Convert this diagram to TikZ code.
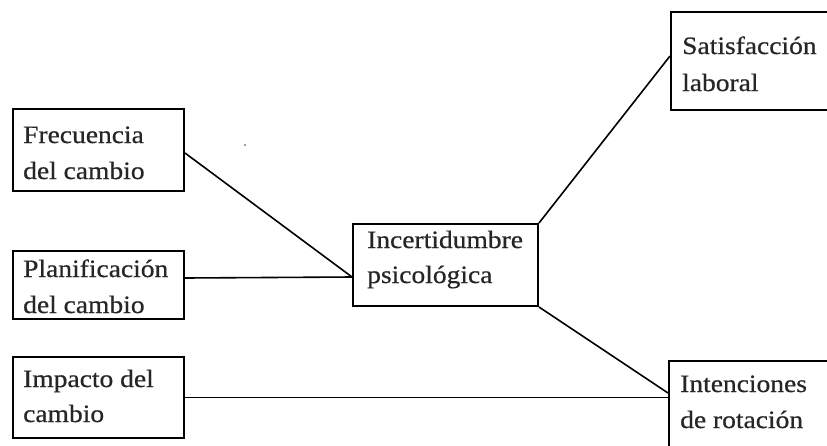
\documentclass[tikz,border=0pt]{standalone}
\usepackage{fontspec}
\newfontfamily\diafont[FakeStretch=1.1,FakeBold=0.6]{Liberation Serif}
\begin{document}
\begin{tikzpicture}[x=1pt,y=-1pt,
  box/.style={draw, line width=2pt, anchor=north west, inner sep=0pt},
  lbl/.style={anchor=base west, inner sep=0pt, text=black!85, font=\diafont\fontsize{25}{30}\selectfont},
  link/.style={line width=1.6pt}]
\useasboundingbox (0,0) rectangle (827,445);
\clip (0,0) rectangle (827,445);
\fill[white] (0,0) rectangle (827,445);
% boxes
\node[box, minimum width=171pt, minimum height=82pt] (frec) at (12,108) {};
\node[box, minimum width=171pt, minimum height=68pt] (plan) at (12,250) {};
\node[box, minimum width=171pt, minimum height=81pt] (imp) at (12,356) {};
\node[box, minimum width=185pt, minimum height=82pt] (inc) at (352,223) {};
\node[box, minimum width=200pt, minimum height=98pt] (sat) at (670,11) {};
\node[box, minimum width=200pt, minimum height=110pt] (int) at (668,360) {};
% labels
\node[lbl] (frec1) at (23,143) {Frecuencia};
\node[lbl] (frec2) at (23,179) {del cambio};
\node[lbl] (plan1) at (23,277) {Planificación};
\node[lbl] (plan2) at (23,313) {del cambio};
\node[lbl] (imp1) at (23,387) {Impacto del};
\node[lbl] (imp2) at (23,422) {cambio};
\node[lbl] (inc1) at (367,248) {Incertidumbre};
\node[lbl] (inc2) at (367,283) {psicológica};
\node[lbl] (sat1) at (682,54) {Satisfacción};
\node[lbl] (sat2) at (682,91) {laboral};
\node[lbl] (int1) at (680,392) {Intenciones};
\node[lbl] (int2) at (680,428) {de rotación};
% connection points
\coordinate (incin) at ([yshift=-12pt]inc.west);
\coordinate (satin) at ([yshift=5pt]sat.west);
\coordinate (intin) at ([yshift=23pt]int.west);
% connectors
\draw[link] ([yshift=-3pt]frec.east) -- (incin);
\draw[link] ([yshift=7pt]plan.east) -- (incin);
\draw[link] (imp.east) -- (imp.east -| int.west);
\draw[link] (inc.north east) -- (satin);
\draw[link] (inc.south east) -- (intin);
% stray speck
\fill[gray] (245,145) circle (1.2);
\end{tikzpicture}
\end{document}
